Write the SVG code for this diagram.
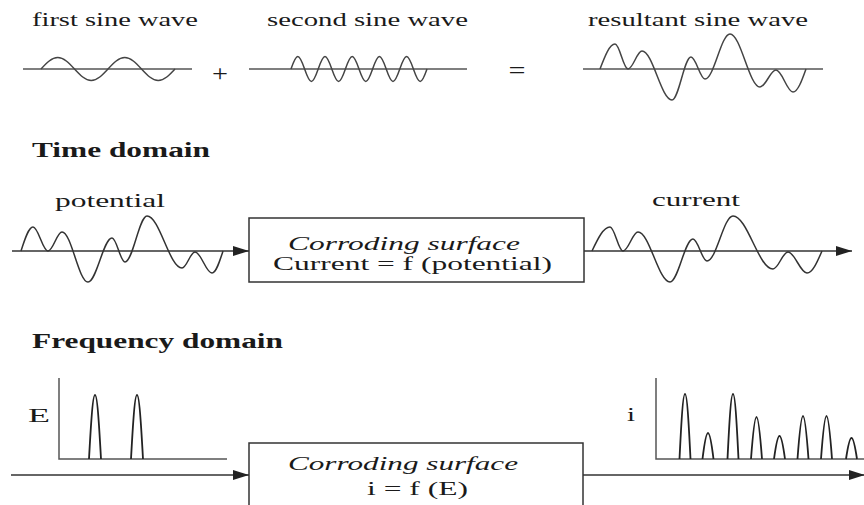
<svg xmlns="http://www.w3.org/2000/svg" width="864" height="505" viewBox="0 0 864 505">
<style>
text{font-family:"Liberation Serif","Times New Roman",serif;fill:#1a1a1a;font-size:19px}
.hd{font-weight:bold;font-size:20px}
.it{font-style:italic}
.op{font-size:24px}
.ax{stroke:#555;stroke-width:1.5;fill:none}
.wv{stroke:#333;stroke-width:1.5;fill:none}
.wv1{stroke:#444;stroke-width:1.5;fill:none}
.pk{stroke:#222;stroke-width:1.8;fill:none;stroke-linejoin:round}
.box{stroke:#333;stroke-width:1.5;fill:#fff}
.arr{stroke:#333;stroke-width:1.5;fill:none}
</style>
<defs>
<marker id="ah" viewBox="0 0 16 10" refX="16" refY="5" markerWidth="16" markerHeight="10" markerUnits="userSpaceOnUse" orient="auto">
<path d="M0,0 L16,5 L0,10 Z" fill="#222"/>
</marker>
</defs>

<g id="first-sine">
<text x="32" y="26" textLength="166" lengthAdjust="spacingAndGlyphs">first sine wave</text>
<line class="ax" x1="23" y1="69" x2="192" y2="69"/>
<path class="wv1" d="M41,69 c5.6,-6.04 10.72,-11.5 16.75,-11.5 s11.15,5.46 16.75,11.5 s10.72,11.5 16.75,11.5 s11.15,-5.46 16.75,-11.5 s10.72,-11.5 16.75,-11.5 s11.15,5.46 16.75,11.5 s10.72,11.5 16.75,11.5 s11.15,-5.46 16.75,-11.5"/>
</g>
<g id="plus"><text class="op" x="220" y="81" text-anchor="middle" textLength="16" lengthAdjust="spacingAndGlyphs">+</text></g>
<g id="second-sine">
<text x="267" y="26" textLength="201" lengthAdjust="spacingAndGlyphs">second sine wave</text>
<line class="ax" x1="249" y1="69" x2="467" y2="69"/>
<path class="wv1" d="M291,69 c2.27,-6.56 4.35,-12.5 6.8,-12.5 s4.53,5.94 6.8,12.5 s4.35,12.5 6.8,12.5 s4.53,-5.94 6.8,-12.5 s4.35,-12.5 6.8,-12.5 s4.53,5.94 6.8,12.5 s4.35,12.5 6.8,12.5 s4.53,-5.94 6.8,-12.5 s4.35,-12.5 6.8,-12.5 s4.53,5.94 6.8,12.5 s4.35,12.5 6.8,12.5 s4.53,-5.94 6.8,-12.5 s4.35,-12.5 6.8,-12.5 s4.53,5.94 6.8,12.5 s4.35,12.5 6.8,12.5 s4.53,-5.94 6.8,-12.5 s4.35,-12.5 6.8,-12.5 s4.53,5.94 6.8,12.5 s4.35,12.5 6.8,12.5 s4.53,-5.94 6.8,-12.5"/>
</g>
<g id="equals"><text class="op" x="517" y="78" text-anchor="middle" textLength="17" lengthAdjust="spacingAndGlyphs">=</text></g>
<g id="resultant-sine">
<text x="588" y="26" textLength="220" lengthAdjust="spacingAndGlyphs">resultant sine wave</text>
<line class="ax" x1="583" y1="69" x2="823" y2="69"/>
<path class="wv1" d="M600,69 C605,55.9 609.6,44 615,44 C619.7,44 623.3,69 628,69 C633,69 637,51 642,51 C652.8,51 661.2,100 672,100 C678.8,100 684.2,57 691,57 C696,57 700,79 705,79 C714,79 721,34 730,34 C740.8,34 749.2,87 760,87 C765.8,87 770.2,70 776,70 C782.1,70 786.9,92 793,92 C797.7,92 801.7,81.1 806,69"/>
</g>

<g id="time-domain-title"><text class="hd" x="32" y="157" textLength="178" lengthAdjust="spacingAndGlyphs">Time domain</text></g>

<g id="potential">
<text x="55" y="207" textLength="110" lengthAdjust="spacingAndGlyphs">potential</text>
<path class="wv" d="M21,251 C25,238.4 28.7,227 33,227 C38.4,227 42.6,251 48,251 C53,251 57,232 62,232 C71.4,232 78.6,282 88,282 C96.6,282 103.4,238 112,238 C116.7,238 120.3,262 125,262 C132.9,262 139.1,216 147,216 C159.6,216 169.4,268 182,268 C186.7,268 190.3,252 195,252 C201.1,252 205.9,273 212,273 C216,273 219.3,262.6 223,251"/>
</g>
<g id="box-time">
<rect class="box" x="249" y="218" width="335" height="64"/>
<text class="it" x="288" y="250" textLength="232" lengthAdjust="spacingAndGlyphs">Corroding surface</text>
<text x="273" y="270" textLength="279" lengthAdjust="spacingAndGlyphs">Current = f (potential)</text>
</g>
<g id="current">
<text x="652" y="206" textLength="88" lengthAdjust="spacingAndGlyphs">current</text>
<path class="wv" d="M592,251 C598,238.4 603.5,227 610,227 C614.7,227 618.3,251 623,251 C628.4,251 632.6,232 638,232 C649.5,232 658.5,282 670,282 C678.3,282 684.7,239 693,239 C698,239 702,261 707,261 C716.4,261 723.6,216 733,216 C747.4,216 758.6,269 773,269 C778.4,269 782.6,252 788,252 C794.8,252 800.2,273 807,273 C812.4,273 817,262.6 822,251"/>
</g>

<g id="frequency-domain-title"><text class="hd" x="32" y="348" textLength="251" lengthAdjust="spacingAndGlyphs">Frequency domain</text></g>

<g id="spectrum-E">
<text x="28" y="422" textLength="22" lengthAdjust="spacingAndGlyphs">E</text>
<path class="ax" d="M59,378 V459 H227"/>
<path class="pk" d="M89,459 c2.1,-38.4 3.9,-64 6,-64 s3.9,25.6 6,64"/>
<path class="pk" d="M131,459 c2.1,-38.4 3.9,-64 6,-64 s3.9,25.6 6,64"/>
</g>
<g id="box-frequency">
<rect class="box" x="249" y="443" width="334" height="70"/>
<text class="it" x="288" y="470" textLength="230" lengthAdjust="spacingAndGlyphs">Corroding surface</text>
<text x="367" y="495" textLength="101" lengthAdjust="spacingAndGlyphs">i = f (E)</text>
</g>
<g id="spectrum-i">
<text x="627" y="421" textLength="8" lengthAdjust="spacingAndGlyphs">i</text>
<path class="ax" d="M656,378 V459 H864"/>
<path class="pk" d="M679.5,459 c1.9,-39 3.6,-65 5.5,-65 s3.6,26 5.5,65"/>
<path class="pk" d="M702.5,459 c1.9,-15.6 3.6,-26 5.5,-26 s3.6,10.4 5.5,26"/>
<path class="pk" d="M727.5,459 c1.9,-39 3.6,-65 5.5,-65 s3.6,26 5.5,65"/>
<path class="pk" d="M751,459 c1.9,-25.2 3.6,-42 5.5,-42 s3.6,16.8 5.5,42"/>
<path class="pk" d="M774,459 c1.9,-13.8 3.6,-23 5.5,-23 s3.6,9.2 5.5,23"/>
<path class="pk" d="M797.5,459 c1.9,-25.8 3.6,-43 5.5,-43 s3.6,17.2 5.5,43"/>
<path class="pk" d="M821,459 c1.9,-25.8 3.6,-43 5.5,-43 s3.6,17.2 5.5,43"/>
<path class="pk" d="M846,459 c1.9,-12.6 3.6,-21 5.5,-21 s3.6,8.4 5.5,21"/>
</g>

<g id="connectors">
<line class="arr" x1="12" y1="251" x2="249" y2="251" marker-end="url(#ah)"/>
<line class="arr" x1="584" y1="251" x2="852" y2="251" marker-end="url(#ah)"/>
<line class="arr" x1="11" y1="475" x2="249" y2="475" marker-end="url(#ah)"/>
<line class="arr" x1="583" y1="475" x2="865" y2="475" marker-end="url(#ah)"/>
</g>
</svg>
